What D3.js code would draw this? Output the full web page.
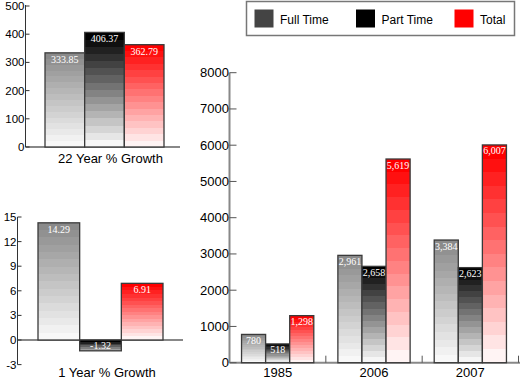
<!DOCTYPE html>
<html>
<head>
<meta charset="utf-8">
<script src="https://cdn.jsdelivr.net/npm/d3@7"></script>
<style>
  html, body { margin: 0; padding: 0; background: #fff; }
  svg { display: block; }
</style>
</head>
<body>
<div id="chart"></div>
<script>
// ---- data ----
const series = ["Full Time", "Part Time", "Total"];
const seriesTop = ["#8a8a8a", "#000000", "#ff0000"];
const seriesBottom = ["#f8f8f8", "#f6f6f6", "#fff4f4"];
const legendColors = ["#444444", "#000000", "#ff0000"];

const growth22 = [333.85, 406.37, 362.79];
const growth22Ticks = [0, 100, 200, 300, 400, 500];
const growth22Title = "22 Year % Growth";

const growth1 = [14.29, -1.32, 6.91];
const growth1Ticks = [-3, 0, 3, 6, 9, 12, 15];
const growth1Title = "1 Year % Growth";

const years = ["1985", "2006", "2007"];
const fullTime = [780, 2961, 3384];
const partTime = [518, 2658, 2623];
const total = [1298, 5619, 6007];
const mainTicks = [0, 1000, 2000, 3000, 4000, 5000, 6000, 7000, 8000];

// ---- setup ----
const W = 520, H = 381;
const svg = d3.select("#chart").append("svg").attr("width", W).attr("height", H);
const defs = svg.append("defs");
const sans = "Liberation Sans, Arial, sans-serif";
const serif = "Liberation Serif, Times New Roman, serif";

function stepGradient(id, top, bottom, n) {
  const g = defs.append("linearGradient").attr("id", id)
    .attr("x1", 0).attr("y1", 0).attr("x2", 0).attr("y2", 1);
  const interp = d3.interpolateRgb(top, bottom);
  for (let i = 0; i < n; i++) {
    const c = interp(i / (n - 1));
    g.append("stop").attr("offset", i / n).attr("stop-color", c);
    g.append("stop").attr("offset", (i + 1) / n).attr("stop-color", c);
  }
}
series.forEach((s, i) => stepGradient("g" + i, seriesTop[i], seriesBottom[i], 16));
stepGradient("gneg", "#000000", "#a0a0a0", 6);

function bar(g, x, y0, y1, w, fill) {
  g.append("rect")
    .attr("x", x).attr("y", Math.min(y0, y1))
    .attr("width", w).attr("height", Math.abs(y1 - y0))
    .attr("fill", fill)
    .attr("stroke", "#3a3a3a").attr("stroke-width", 1.3);
}
function valueLabel(g, x, y, text) {
  g.append("text").attr("x", x).attr("y", y)
    .attr("text-anchor", "middle")
    .attr("font-family", serif).attr("font-size", 10)
    .attr("fill", "#fff").text(text);
}

// ---- chart 1: 22 year growth ----
{
  const g = svg.append("g");
  const y = d3.scaleLinear().domain([0, 500]).range([147, 6]);
  const x = d3.scaleBand().domain(series).range([45, 164]);
  const axisX = 25.5;
  g.append("line").attr("x1", axisX).attr("x2", 180).attr("y1", y(0)).attr("y2", y(0))
    .attr("stroke", "#888").attr("stroke-width", 2);
  g.append("line").attr("x1", axisX).attr("x2", axisX).attr("y1", y(500) - 1).attr("y2", y(0))
    .attr("stroke", "#333").attr("stroke-width", 1);
  growth22Ticks.forEach(t => {
    g.append("line").attr("x1", axisX).attr("x2", axisX + 4).attr("y1", y(t)).attr("y2", y(t))
      .attr("stroke", "#333");
    g.append("text").attr("x", axisX - 1).attr("y", y(t) + 4).attr("text-anchor", "end")
      .attr("font-family", sans).attr("font-size", 11.5).attr("fill", "#000").text(t);
  });
  growth22.forEach((v, i) => {
    bar(g, x(series[i]), y(0), y(v), x.bandwidth(), "url(#g" + i + ")");
    valueLabel(g, x(series[i]) + x.bandwidth() / 2, y(v) + 10, v.toFixed(2));
  });
  g.append("text").attr("x", 110.5).attr("y", 162.5).attr("text-anchor", "middle")
    .attr("font-family", sans).attr("font-size", 13).attr("fill", "#000").text(growth22Title);
}

// ---- chart 2: 1 year growth ----
{
  const g = svg.append("g");
  const y = d3.scaleLinear().domain([-3, 15]).range([364.6, 217]);
  const x = d3.scaleBand().domain(series).range([38, 163]);
  const axisX = 17.5;
  g.append("line").attr("x1", axisX).attr("x2", 183).attr("y1", y(0)).attr("y2", y(0))
    .attr("stroke", "#888").attr("stroke-width", 2);
  g.append("line").attr("x1", axisX).attr("x2", axisX).attr("y1", y(15)).attr("y2", y(-3))
    .attr("stroke", "#333").attr("stroke-width", 1);
  growth1Ticks.forEach(t => {
    g.append("line").attr("x1", axisX).attr("x2", axisX + 4).attr("y1", y(t)).attr("y2", y(t))
      .attr("stroke", "#333");
    g.append("text").attr("x", axisX - 1).attr("y", y(t) + 4).attr("text-anchor", "end")
      .attr("font-family", sans).attr("font-size", 11.5).attr("fill", "#000").text(t);
  });
  growth1.forEach((v, i) => {
    const fill = v < 0 ? "url(#gneg)" : "url(#g" + i + ")";
    bar(g, x(series[i]), y(0), y(v), x.bandwidth(), fill);
    const top = Math.min(y(0), y(v));
    valueLabel(g, x(series[i]) + x.bandwidth() / 2, top + (v < 0 ? 8.5 : 10), v.toFixed(2));
  });
  g.append("text").attr("x", 107).attr("y", 376.7).attr("text-anchor", "middle")
    .attr("font-family", sans).attr("font-size", 13).attr("fill", "#000").text(growth1Title);
}

// ---- chart 3: enrollment by year ----
{
  const g = svg.append("g");
  const values = [fullTime, partTime, total];
  const y = d3.scaleLinear().domain([0, 8000]).range([362.7, 72.7]);
  const x0 = d3.scaleBand().domain(years).range([229.5, 518.5]);
  const x1 = d3.scaleBand().domain(series)
    .range([x0.bandwidth() * 0.125, x0.bandwidth() * 0.875]);
  const axisX = 229.5;
  g.append("line").attr("x1", axisX).attr("x2", W).attr("y1", y(0)).attr("y2", y(0))
    .attr("stroke", "#888").attr("stroke-width", 2);
  g.append("line").attr("x1", axisX).attr("x2", axisX).attr("y1", y(8000)).attr("y2", y(0))
    .attr("stroke", "#888").attr("stroke-width", 2);
  mainTicks.forEach(t => {
    g.append("line").attr("x1", axisX).attr("x2", axisX + 7).attr("y1", y(t)).attr("y2", y(t))
      .attr("stroke", "#555");
    g.append("text").attr("x", axisX - 0.5).attr("y", y(t) + 4.5).attr("text-anchor", "end")
      .attr("font-family", sans).attr("font-size", 13).attr("fill", "#000").text(t);
  });
  years.forEach((yr, j) => {
    const bx = x0(yr);
    g.append("line").attr("x1", bx + x0.bandwidth()).attr("x2", bx + x0.bandwidth())
      .attr("y1", y(0)).attr("y2", y(0) - 7).attr("stroke", "#555");
    series.forEach((s, i) => {
      const v = values[i][j];
      bar(g, bx + x1(s), y(0), y(v), x1.bandwidth(), "url(#g" + i + ")");
      valueLabel(g, bx + x1(s) + x1.bandwidth() / 2, y(v) + 9.5, d3.format(",")(v));
    });
    g.append("text").attr("x", bx + x0.bandwidth() / 2).attr("y", 377.3).attr("text-anchor", "middle")
      .attr("font-family", sans).attr("font-size", 13).attr("fill", "#000").text(yr);
  });
}

// ---- legend ----
{
  const g = svg.append("g");
  g.append("rect").attr("x", 246.5).attr("y", 1.5).attr("width", 268).attr("height", 34)
    .attr("fill", "#fff").attr("stroke", "#777").attr("stroke-width", 1.5);
  const lx = [254.5, 356, 454.5];
  series.forEach((s, i) => {
    g.append("rect").attr("x", lx[i]).attr("y", 9.5).attr("width", 19).attr("height", 18)
      .attr("fill", legendColors[i]);
    g.append("text").attr("x", lx[i] + 25.5).attr("y", 23.5)
      .attr("font-family", sans).attr("font-size", 12).attr("fill", "#000").text(s);
  });
}
</script>
</body>
</html>
